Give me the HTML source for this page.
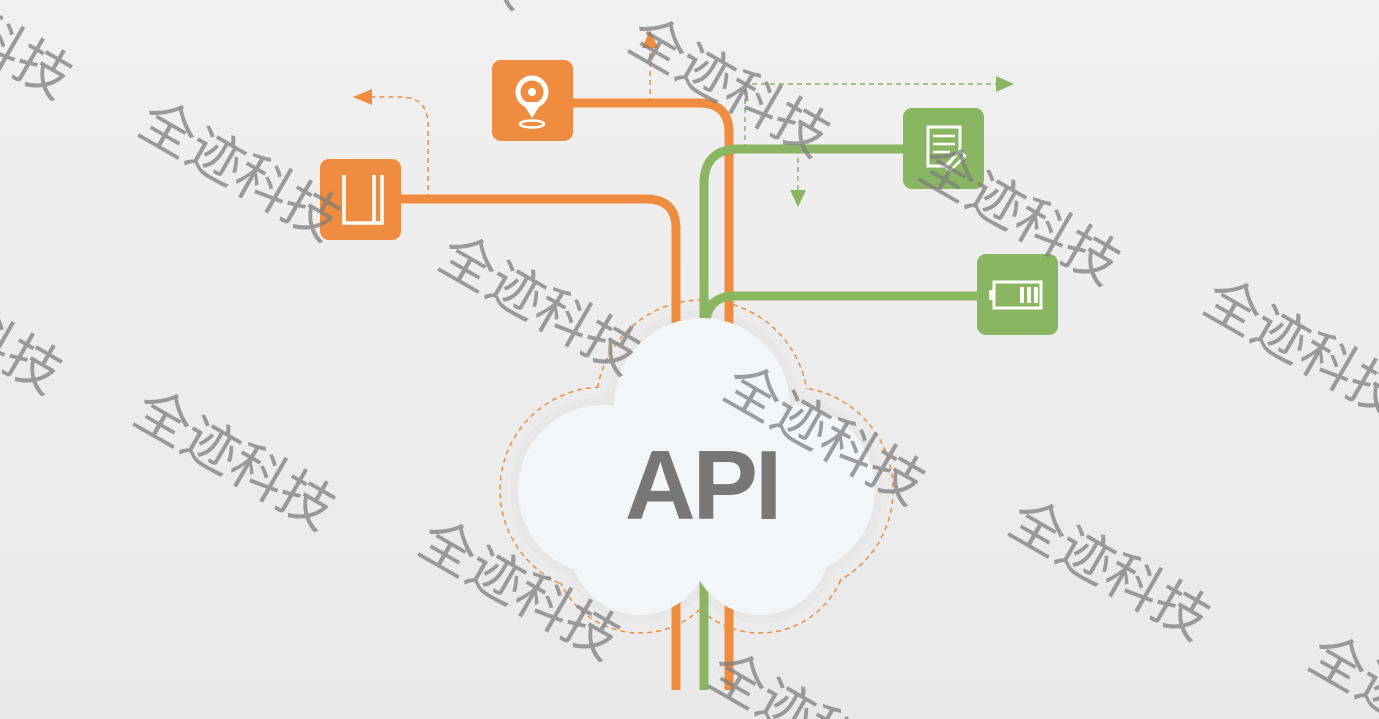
<!DOCTYPE html>
<html><head><meta charset="utf-8"><style>
html,body{margin:0;padding:0;width:1379px;height:719px;overflow:hidden}
body{position:relative;background:linear-gradient(180deg,#f0f0f0,#e9e9e9);}
svg{position:absolute;left:0;top:0}
#wm{position:absolute;left:0;top:0;width:1379px;height:719px;overflow:hidden}
.w{position:absolute;font-family:"Liberation Sans","Noto Sans CJK SC",sans-serif;font-size:55px;color:rgba(125,125,125,0.75);transform-origin:0 0;transform:rotate(30deg);white-space:nowrap;line-height:1}
</style></head><body>
<svg width="1379" height="719" viewBox="0 0 1379 719">
<g fill="none" stroke="#f08c3f" stroke-width="1.5" stroke-dasharray="5,4">
<circle cx="702" cy="406" r="106"/><circle cx="603" cy="490" r="103"/><circle cx="790" cy="490" r="103"/><circle cx="640" cy="545" r="88"/><circle cx="760" cy="545" r="88"/>
</g>
<g fill="#ebebeb">
<circle cx="702" cy="406" r="105"/><circle cx="603" cy="490" r="102"/><circle cx="790" cy="490" r="102"/><circle cx="640" cy="545" r="87"/><circle cx="760" cy="545" r="87"/><rect x="620" y="450" width="160" height="120"/>
</g>
<g fill="#e7e7e7">
<circle cx="702" cy="406" r="96"/><circle cx="603" cy="490" r="93"/><circle cx="790" cy="490" r="93"/><circle cx="640" cy="545" r="78"/><circle cx="760" cy="545" r="78"/>
</g>
<g fill="none" stroke-width="1.5" stroke-dasharray="5,4">
<path d="M428,199 V125 Q428,97 400,97 H368" stroke="#f08c3f"/>
<path d="M650,103 V45" stroke="#f08c3f"/>
<path d="M745,149 V84 H997" stroke="#8ab661"/>
<path d="M798,149 V192" stroke="#8ab661"/>
</g>
<path d="M353,97 L372,89 L372,105 Z" fill="#f08c3f"/>
<path d="M650,30 L642,48 L658,48 Z" fill="#f08c3f"/>
<path d="M1014,84 L996,76 L996,92 Z" fill="#8ab661"/>
<path d="M798,207 L790,190 L806,190 Z" fill="#8ab661"/>
<g fill="none" stroke-width="9">
<path d="M400,199 H646 Q676,199 676,229 V690" stroke="#f08c3f"/>
<path d="M572,103 H699 Q729,103 729,133 V690" stroke="#f08c3f"/>
<path d="M904,149 H739 Q704,149 704,184 V690" stroke="#8ab661"/>
<path d="M978,296 H735 Q708,296 706,322" stroke="#8ab661"/>
</g>
<g fill="#f3f6f9">
<circle cx="702" cy="406" r="88"/><circle cx="603" cy="490" r="85"/><circle cx="790" cy="490" r="85"/><circle cx="640" cy="545" r="70"/><circle cx="760" cy="545" r="70"/><rect x="620" y="450" width="160" height="110"/>
</g>
<text x="702" y="519" text-anchor="middle" font-family="Liberation Sans,sans-serif" font-weight="bold" font-size="98" fill="#777" letter-spacing="-3">API</text>
<rect x="492" y="60" width="81" height="81" rx="9" fill="#f08c3f"/>
<rect x="320" y="159" width="81" height="81" rx="9" fill="#f08c3f"/>
<rect x="903" y="108" width="81" height="81" rx="9" fill="#8ab661"/>
<rect x="977" y="254" width="81" height="81" rx="9" fill="#8ab661"/>
<circle cx="532" cy="92" r="14" fill="none" stroke="#fff" stroke-width="5"/>
<circle cx="532" cy="92" r="4" fill="#fff"/>
<path d="M522,102 L532,118 L542,102 Z" fill="#fff"/>
<ellipse cx="532" cy="124" rx="12" ry="3.5" fill="none" stroke="#fff" stroke-width="2.5"/>
<path d="M344,175 V223 H382 V175 M374,175 V223" fill="none" stroke="#fff" stroke-width="3.5"/>
<path d="M928,127 H960 V150 L947,166 H928 Z" fill="none" stroke="#fff" stroke-width="3"/>
<path d="M933,136 H955 M933,144 H955 M933,152 H950" stroke="#fff" stroke-width="2.5"/>
<path d="M945,166 L960,151 L965,156 L950,171 Z" fill="none" stroke="#fff" stroke-width="2.5"/>
<rect x="994" y="282" width="47" height="26" fill="none" stroke="#fff" stroke-width="3"/>
<rect x="989" y="290" width="5" height="10" fill="#fff"/>
<rect x="1020" y="287" width="4" height="16" fill="#fff"/><rect x="1027" y="287" width="4" height="16" fill="#fff"/><rect x="1034" y="287" width="4" height="16" fill="#fff"/>
</svg>
<div id="wm">
<div class="w" style="left:-110px;top:-50px">全迹科技</div>
<div class="w" style="left:158px;top:92px">全迹科技</div>
<div class="w" style="left:648px;top:8px">全迹科技</div>
<div class="w" style="left:458px;top:226px">全迹科技</div>
<div class="w" style="left:938px;top:136px">全迹科技</div>
<div class="w" style="left:1223px;top:270px">全迹科技</div>
<div class="w" style="left:-120px;top:245px">全迹科技</div>
<div class="w" style="left:153px;top:381px">全迹科技</div>
<div class="w" style="left:743px;top:356px">全迹科技</div>
<div class="w" style="left:438px;top:511px">全迹科技</div>
<div class="w" style="left:1028px;top:491px">全迹科技</div>
<div class="w" style="left:1328px;top:626px">全迹科技</div>
<div class="w" style="left:728px;top:643px">全迹科技</div>
<div class="w" style="left:350px;top:-140px">全迹科技</div>
</div>
</body></html>
